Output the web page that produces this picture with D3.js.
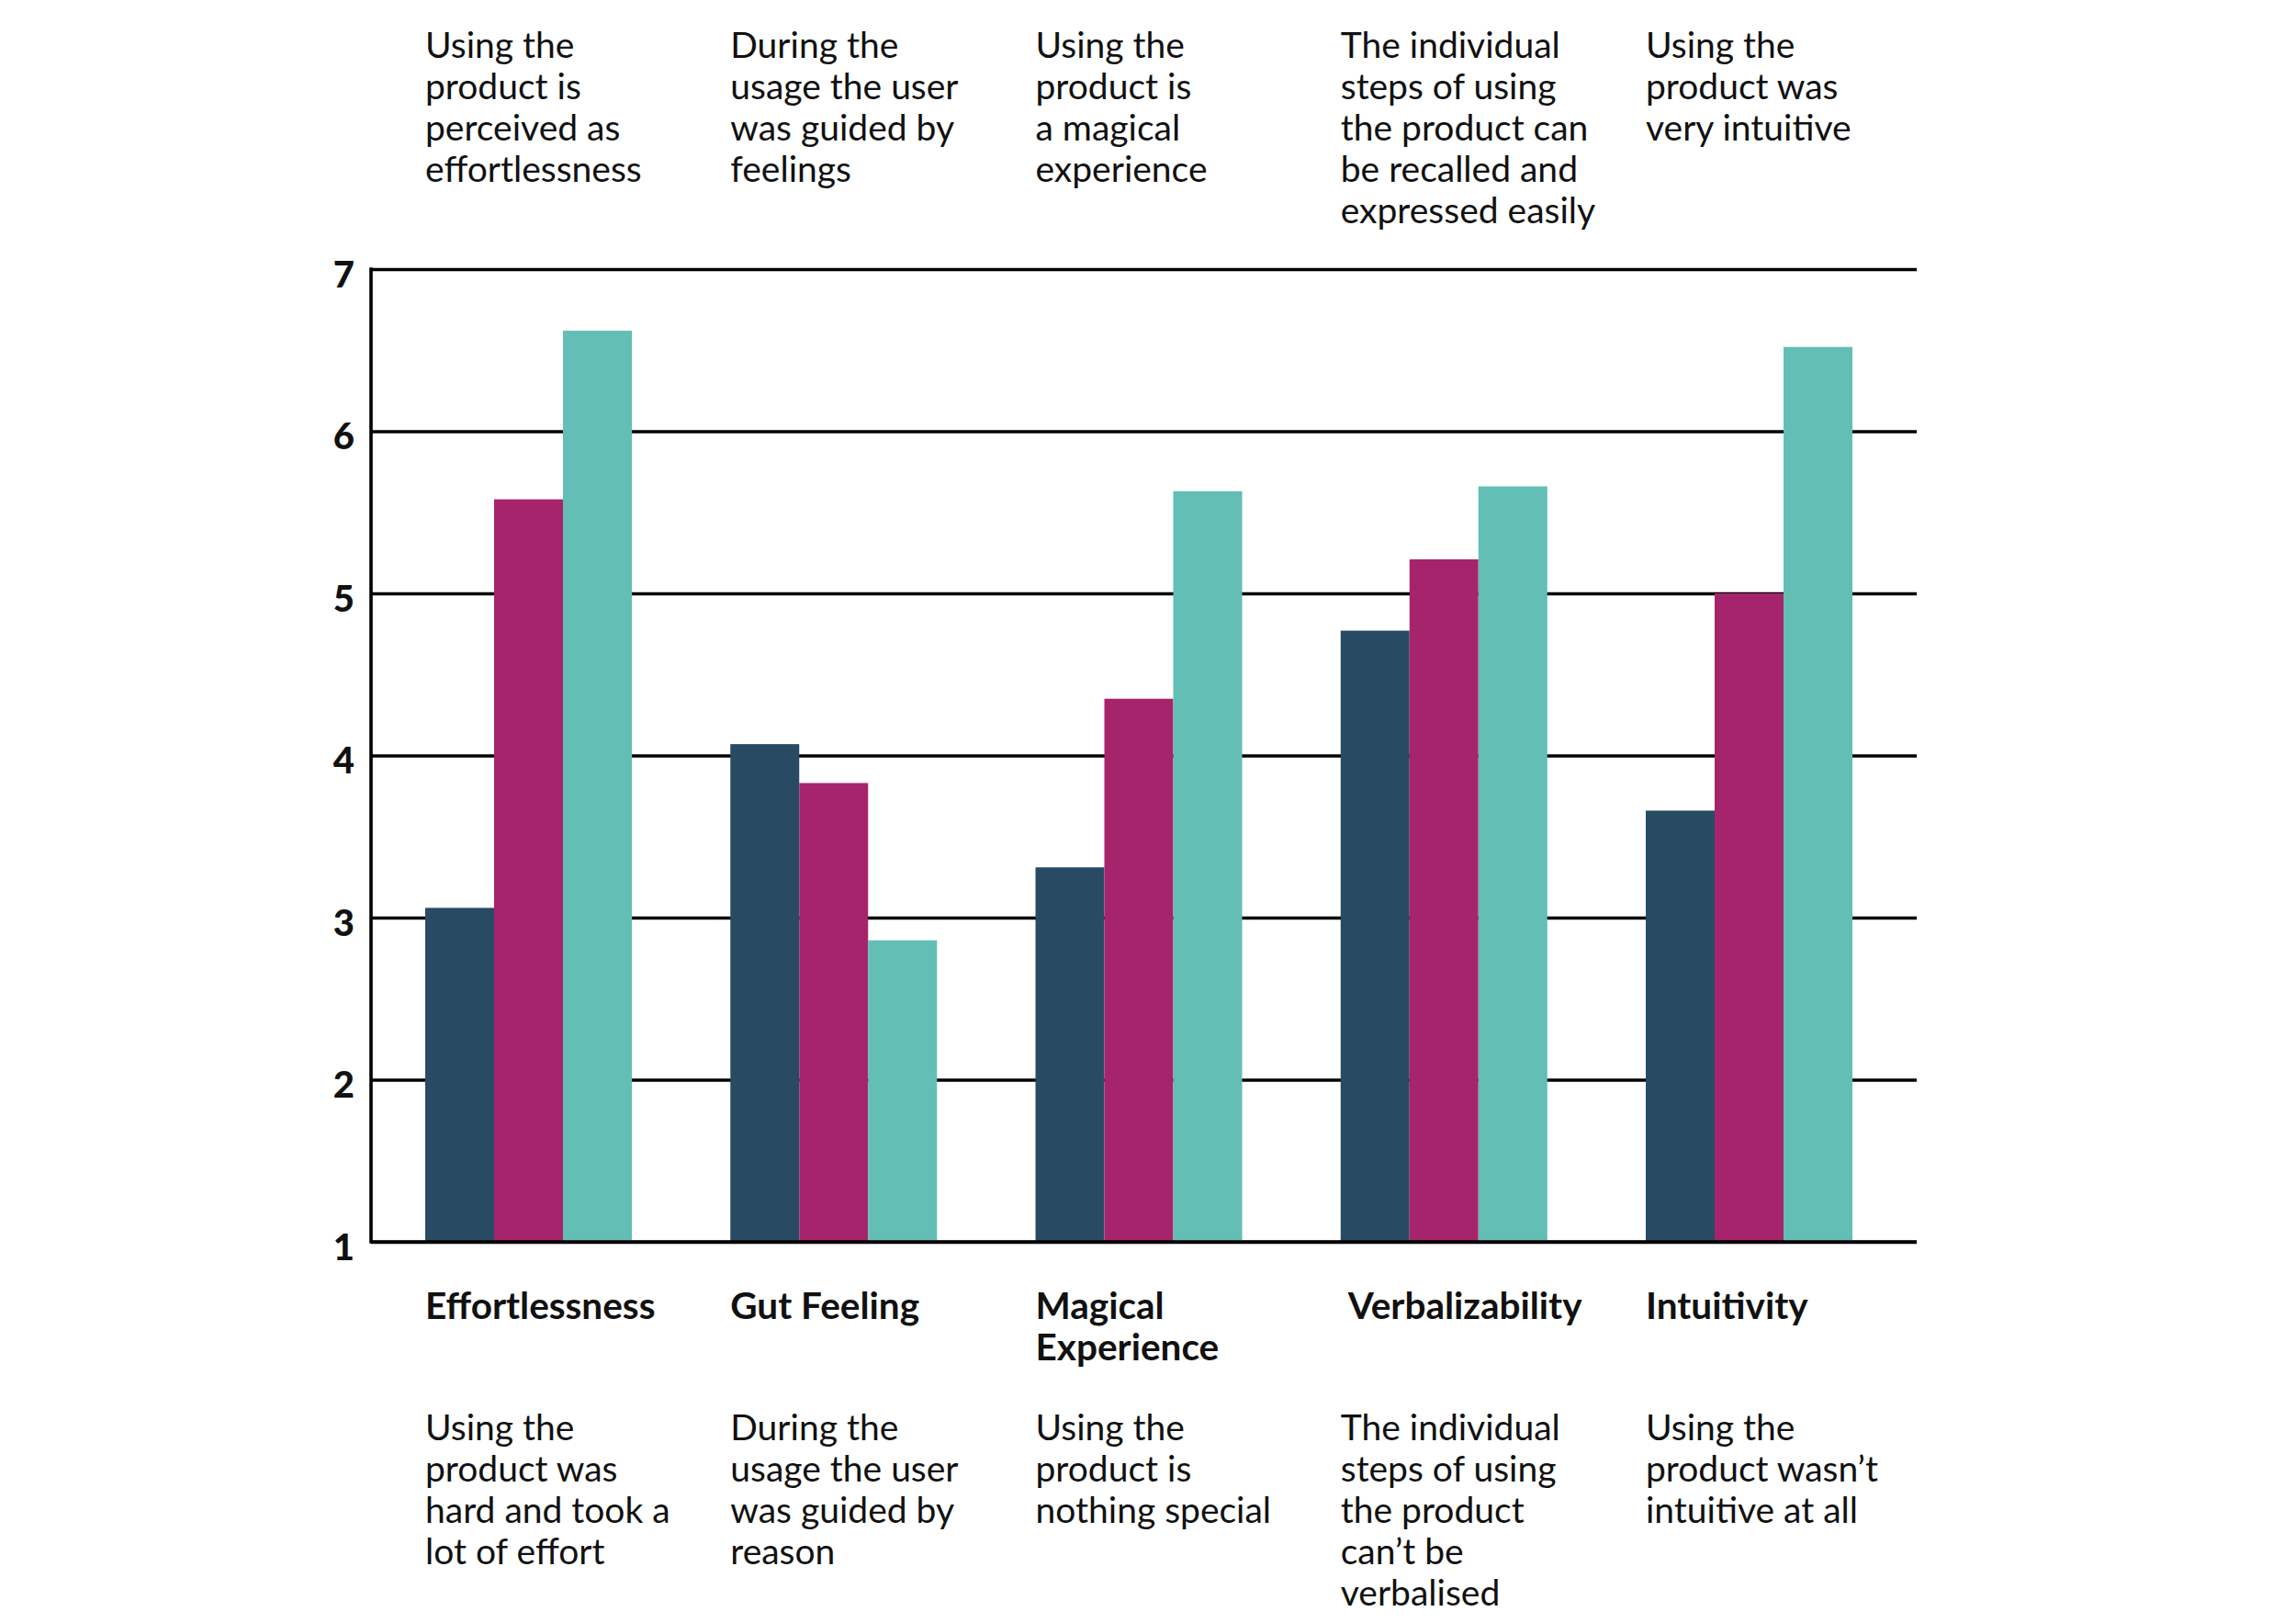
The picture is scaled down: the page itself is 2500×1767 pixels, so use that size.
<!DOCTYPE html>
<html>
<head>
<meta charset="utf-8">
<script src="https://cdn.jsdelivr.net/npm/d3@7"></script>
<style>
  body { margin: 0; background: #fff; }
  text { font-family: Lato, "Open Sans", sans-serif; fill: #111; }
</style>
</head>
<body>
<svg id="canvas" width="2500" height="1767"></svg>
<script>
// ---------------------------------------------------------------- //
// Data

var categories = ['Effortlessness', 'Gut Feeling', 'Magical Experience', 'Verbalizability', 'Intuitivity'];
var category_lines = [['Effortlessness'], ['Gut Feeling'], ['Magical', 'Experience'], ['Verbalizability'], ['Intuitivity']];

var top_labels = [
  ['Using the', 'product is', 'perceived as', 'effortlessness'],
  ['During the', 'usage the user', 'was guided by', 'feelings'],
  ['Using the', 'product is', 'a magical', 'experience'],
  ['The individual', 'steps of using', 'the product can', 'be recalled and', 'expressed easily'],
  ['Using the', 'product was', 'very intuitive']
];

var bottom_labels = [
  ['Using the', 'product was', 'hard and took a', 'lot of effort'],
  ['During the', 'usage the user', 'was guided by', 'reason'],
  ['Using the', 'product is', 'nothing special'],
  ['The individual', 'steps of using', 'the product', 'can\u2019t be', 'verbalised'],
  ['Using the', 'product wasn\u2019t', 'intuitive at all']
];

var series = ['a', 'b', 'c'];
var values_a = [3.06, 4.07, 3.31, 4.77, 3.66];
var values_b = [5.58, 3.83, 4.35, 5.21, 5.00];
var values_c = [6.62, 2.86, 5.63, 5.66, 6.52];
var y_ticks = [1, 2, 3, 4, 5, 6, 7];

var colors = { a: '#284b63', b: '#a6246c', c: '#63beb5' };

// ---------------------------------------------------------------- //
// Layout

var left = 404, right = 2087, top_y = 293, bottom_y = 1352;
var line_h = 45;

var svg = d3.select('#canvas');

var y = d3.scaleLinear().domain([1, 7]).range([bottom_y, top_y]);
var x0 = d3.scaleBand().domain(categories).range([463, 2017]).paddingInner(0.3228).paddingOuter(0);
var x1 = d3.scaleBand().domain(series).range([0, x0.bandwidth()]).padding(0);

var rows = categories.map(function(c, i){
  return { cat: c, a: values_a[i], b: values_b[i], c: values_c[i] };
});

// ---------------------------------------------------------------- //
// Grid + tick labels

var y_axis = d3.axisLeft(y).tickValues(y_ticks).tickSize(-(right - left)).tickPadding(18).tickFormat(d3.format('d'));
var axis_g = svg.append('g').attr('transform', 'translate(' + left + ',0)').call(y_axis);
axis_g.select('.domain').remove();
axis_g.selectAll('.tick line').attr('stroke', '#000').attr('stroke-width', 3.6);
axis_g.selectAll('.tick text')
  .attr('dy', '0.48em')
  .style('font-size', '40px').style('font-weight', 900).style('font-family', 'Lato, sans-serif').attr('fill', '#111');

// ---------------------------------------------------------------- //
// Bars

var groups = svg.append('g').selectAll('g').data(rows).join('g')
  .attr('transform', function(d){ return 'translate(' + x0(d.cat) + ',0)'; });

groups.selectAll('rect')
  .data(function(d){ return series.map(function(s){ return { key: s, value: d[s] }; }); })
  .join('rect')
  .attr('x', function(d){ return x1(d.key); })
  .attr('y', function(d){ return y(d.value); })
  .attr('width', x1.bandwidth())
  .attr('height', function(d){ return y(1) - y(d.value); })
  .attr('fill', function(d){ return colors[d.key]; });

// axis lines on top of the bars
svg.append('line').attr('x1', left).attr('x2', right).attr('y1', y(1)).attr('y2', y(1)).attr('stroke', '#000').attr('stroke-width', 3.6);
svg.append('line').attr('x1', left).attr('x2', left).attr('y1', y(7) - 1.8).attr('y2', y(1) + 1.8).attr('stroke', '#000').attr('stroke-width', 3.6);

// ---------------------------------------------------------------- //
// Texts

function multiline(sel, lines_fn, y_start, dx){
  sel.each(function(d, i){
    var t = d3.select(this);
    var shift = dx ? dx[i] : 0;
    lines_fn(i).forEach(function(l, k){
      t.append('tspan').attr('x', x0(categories[i]) + shift).attr('y', y_start + k * line_h).text(l);
    });
  });
}

svg.append('g').selectAll('text').data(categories).join('text')
  .style('font-size', '39px')
  .call(multiline, function(i){ return top_labels[i]; }, 63);

svg.append('g').selectAll('text').data(categories).join('text')
  .style('font-size', '40.5px').style('font-weight', 700)
  .call(multiline, function(i){ return category_lines[i]; }, 1436, [0, 0, 0, 8, 0]);

svg.append('g').selectAll('text').data(categories).join('text')
  .style('font-size', '39px')
  .call(multiline, function(i){ return bottom_labels[i]; }, 1568);
</script>
</body>
</html>
